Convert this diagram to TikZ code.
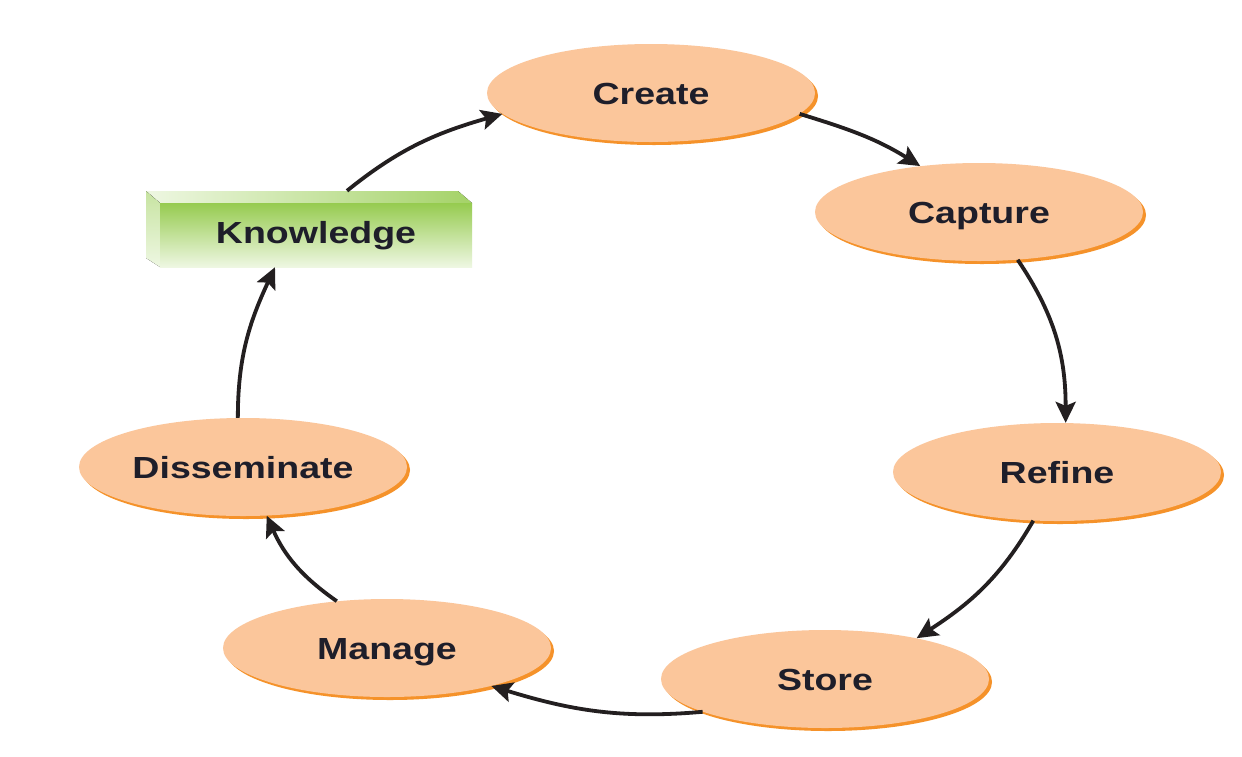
\documentclass[tikz,border=0pt]{standalone}
\usepackage{fontspec}
\setmainfont[FakeStretch=1.23]{Liberation Sans}
\usetikzlibrary{shapes.geometric,arrows.meta}
\definecolor{peach}{HTML}{FBC69B}
\definecolor{rim}{HTML}{F5922A}
\definecolor{ink}{HTML}{1E1E2A}
\definecolor{arr}{HTML}{231F20}
\definecolor{gdark}{HTML}{8CC63F}
\definecolor{glight}{HTML}{EEF7E2}
\begin{document}
\begin{tikzpicture}[x=1pt,y=1pt,
  stage/.style={ellipse, fill=peach, minimum width=328pt, minimum height=98pt,
    inner sep=0pt, font=\fontsize{30.5}{36}\bfseries\selectfont, text=ink,
    text height=22pt, text depth=0pt},
  rimst/.style={ellipse, fill=rim, minimum width=328pt, minimum height=98pt, inner sep=0pt},
  knowbox/.style={rectangle, minimum width=312pt, minimum height=64pt, inner sep=0pt,
    top color=gdark!90!glight, bottom color=glight,
    font=\fontsize{30.5}{36}\bfseries\selectfont, text=ink, text height=22pt, text depth=0pt},
  flow/.style={draw=arr, line width=3.8pt, -{Stealth[length=21pt,width=20pt,inset=4pt]}},
]
\fill[white] (0,0) rectangle (1242,-756);
\useasboundingbox (0,0) rectangle (1242,-756);

\foreach \n/\x/\y/\t in {create/651/93/Create, capture/979/212/Capture,
    refine/1057/472/Refine, store/825/679/Store, manage/387/648/Manage,
    dissem/243/467/Disseminate}{
  \node[rimst] at (\x+3,-\y-3) {};
  \node[stage] (\n) at (\x,-\y) {\t};
}

% Knowledge 3D box
\fill[left color=glight, right color=gdark!75!glight] (146,-191) -- (458,-191) -- (472,-203) -- (160,-203) -- cycle;
\fill[top color=glight!60!gdark, bottom color=glight] (146,-191) -- (160,-203) -- (160,-267) -- (146,-258) -- cycle;
\node[knowbox] (know) at (316,-235) {\raisebox{3pt}{Knowledge}};

% connectors
\draw[flow] ([shift={(31pt,12pt)}]know.north) to[out=39,in=196] (create.188);
\draw[flow] (create.352) to[out=-17,in=148] (capture.142);
\draw[flow] (capture.309) to[out=-56,in=90] (refine.80);
\draw[flow] (refine.244) to[out=240,in=33] (store.24);
\draw[flow] (store.195) to[out=185,in=-17] (manage.340);
\draw[flow] (manage.137) to[out=145,in=-66] (dissem.296);
\draw[flow] (dissem.96) to[out=90,in=245] ([xshift=-41pt]know.south);
\end{tikzpicture}
\end{document}
